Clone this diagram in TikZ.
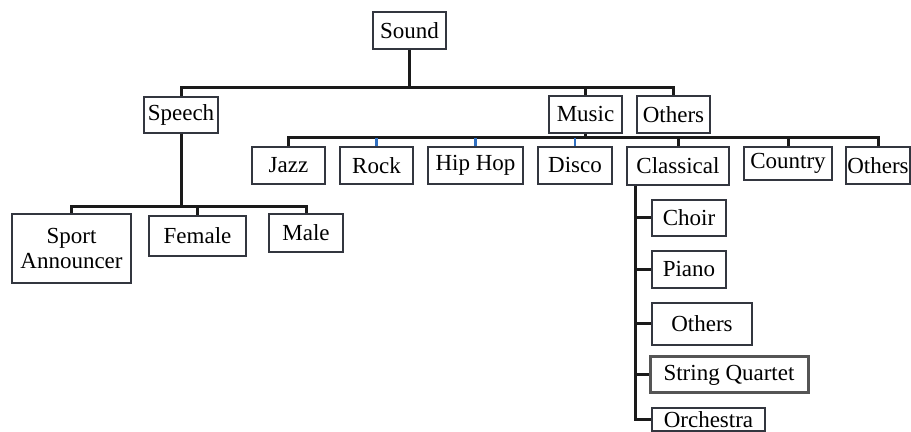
\documentclass[tikz,border=0pt]{standalone}
\usepackage{fontspec}
\setmainfont{Liberation Serif}
\usepackage{tikz}
\usetikzlibrary{calc}
\definecolor{EdgeGray}{HTML}{33363F}
\definecolor{LinkBlack}{HTML}{1A1A1A}
\definecolor{TickBlue}{HTML}{2F6FC0}
\definecolor{QuartetGray}{HTML}{555555}
\tikzset{
  % Box styles
  catbox/.style={rectangle, draw=EdgeGray, line width=1pt, fill=white, inner sep=0pt, align=center, font=\fontsize{11.5}{12.5}\selectfont},
  % Line styles
  link/.style={LinkBlack, line width=1.5pt},
  bluelink/.style={TickBlue, line width=1.2pt}
}

\begin{document}
\begin{tikzpicture}[x=0.5pt, y=-0.5pt]
  \useasboundingbox (0,0) rectangle (911,432);

  % Boxes
  \foreach \nm/\x/\y/\w/\h/\txt in {snd/409.5/30.5/73/37/Sound, spc/181/115/74/36/Speech,
      mus/585.5/114.5/73/37/Music, oth/673.5/114.5/73/37/Others,
      jaz/288.5/165.5/73/37/Jazz, rck/376.5/165.5/73/37/Rock, hip/475.5/165.5/95/37/Hip Hop,
      dsc/575/165.5/74/37/Disco, cls/678/166/102/38/Classical, cty/788/163.5/88/33/Country,
      ot2/878/165.5/64/37/Others, fem/197.5/236/97/40/Female, mal/306/233/74/38/Male,
      cho/689/218/74/36/Choir, pia/689/269.5/74/37/Piano, ot3/702/324/100/42/Others,
      orc/708.5/419.5/113/23/Orchestra} {
    \node[catbox, minimum width=\w*0.5pt, minimum height=\h*0.5pt] (\nm) at (\x,\y) {\txt};
  }
  \node[catbox, minimum width=59.5pt, minimum height=34.5pt] (spa) at (71.5,248.5) {Sport\\Announcer};
  \node[catbox, draw=QuartetGray, line width=1.5pt, minimum width=79pt, minimum height=18pt] (sq) at (729,375) {String Quartet};

  % Bus levels
  \coordinate (b1) at (0,88);
  \coordinate (b2) at (0,138);
  \coordinate (b3) at (0,207);
  \coordinate (cv) at ($(cls.south west)+(9,0)$);

  % Sound
  \foreach \n in {spc,mus,oth}
    \draw[link] (snd.south) -- (snd.south |- b1) -| (\n.north);

  % Music
  \foreach \n in {jaz,cls,cty,ot2}
    \draw[link] (mus.south) -- (mus.south |- b2) -| (\n.north);
  \foreach \n in {rck,hip,dsc}
    \draw[bluelink] (\n.north |- b2) -- (\n.north);

  % Speech
  \foreach \n in {spa,fem,mal}
    \draw[link] (spc.south) -- (spc.south |- b3) -| (\n.north);

  % Classical
  \foreach \n in {cho,pia,ot3,sq,orc}
    \draw[link] (cv) |- (\n.west);
\end{tikzpicture}
\end{document}
